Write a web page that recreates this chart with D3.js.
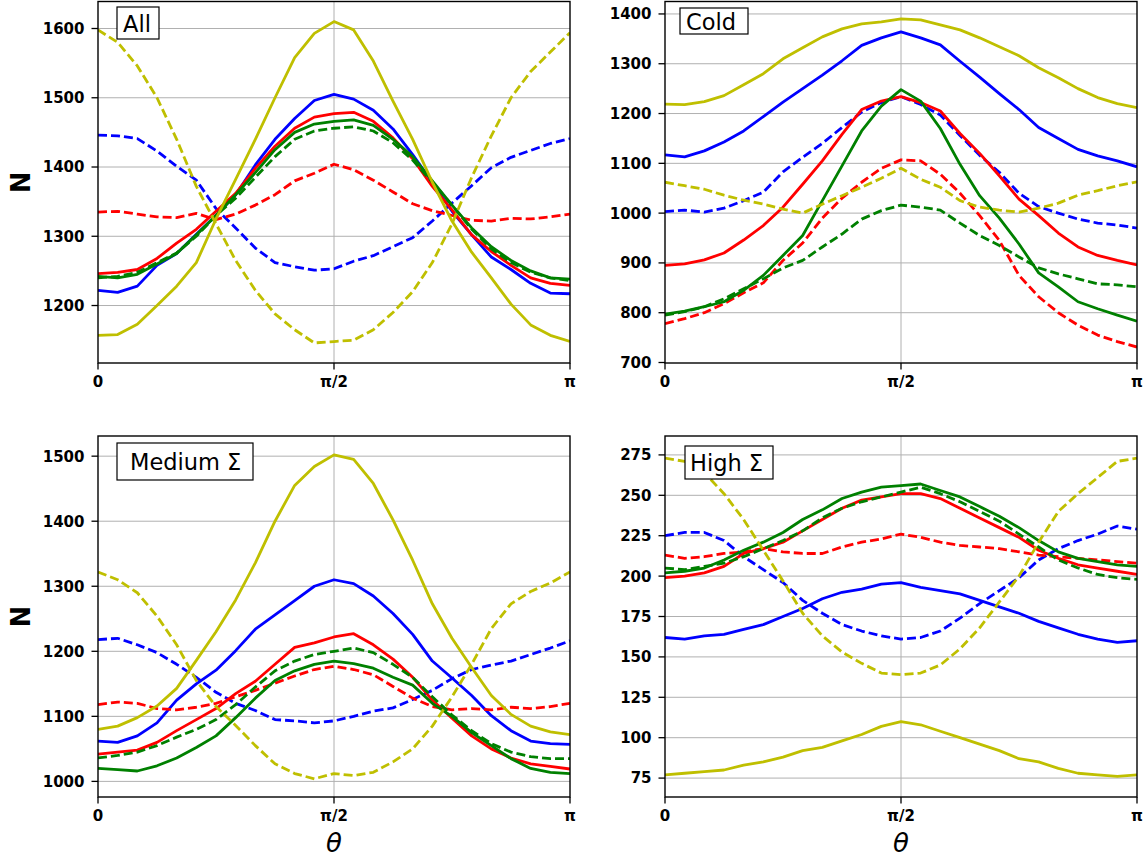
<!DOCTYPE html>
<html>
<head>
<meta charset="utf-8">
<script src="https://cdn.jsdelivr.net/npm/d3@7"></script>
<style>
  body { margin: 0; background: #fff; }
  text { font-family: "DejaVu Sans", sans-serif; }
</style>
</head>
<body>
<div id="chart"></div>
<script>
// theta samples: 25 steps from 0 to pi
var nSteps = 25;

// ---- All ----
var allBlueSolid    = [1222,1219,1228,1258,1275,1303,1330,1360,1403,1440,1470,1496,1505,1498,1482,1455,1418,1378,1336,1302,1270,1252,1232,1218,1217];
var allBlueDashed   = [1446,1445,1441,1423,1401,1381,1340,1312,1283,1262,1256,1251,1253,1264,1272,1285,1298,1322,1348,1373,1399,1414,1424,1434,1441];
var allRedSolid     = [1246,1248,1252,1268,1290,1310,1336,1362,1398,1430,1456,1472,1477,1479,1466,1442,1412,1372,1338,1302,1278,1258,1240,1232,1229];
var allRedDashed    = [1335,1336,1332,1328,1327,1333,1324,1332,1345,1360,1380,1391,1404,1396,1381,1364,1347,1337,1330,1323,1322,1326,1325,1328,1332];
var allGreenSolid   = [1242,1240,1245,1260,1275,1302,1330,1360,1392,1425,1450,1462,1466,1468,1460,1440,1415,1380,1345,1312,1285,1265,1250,1240,1238];
var allGreenDashed  = [1240,1242,1248,1262,1276,1300,1330,1355,1385,1415,1440,1452,1456,1458,1452,1435,1410,1378,1345,1310,1282,1262,1248,1240,1236];
var allYellowSolid  = [1157,1158,1173,1200,1228,1262,1325,1382,1440,1500,1558,1593,1610,1598,1553,1495,1440,1378,1322,1277,1240,1202,1172,1157,1148];
var allYellowDashed = [1598,1580,1546,1500,1440,1372,1318,1265,1222,1188,1165,1146,1148,1150,1165,1190,1220,1262,1318,1385,1445,1500,1538,1566,1594];

// ---- Cold ----
var coldBlueSolid    = [1117,1113,1125,1143,1165,1194,1223,1250,1277,1306,1337,1352,1364,1352,1338,1305,1273,1240,1208,1172,1150,1128,1115,1105,1093];
var coldBlueDashed   = [1003,1006,1002,1010,1025,1042,1083,1112,1140,1172,1203,1222,1234,1218,1197,1156,1116,1082,1040,1013,1000,988,980,976,970];
var coldRedSolid     = [895,898,906,920,946,975,1012,1058,1105,1158,1208,1225,1234,1222,1205,1160,1120,1075,1028,995,960,932,915,905,896];
var coldRedDashed    = [778,788,800,818,840,860,905,940,990,1030,1062,1090,1107,1105,1078,1040,995,945,875,832,800,775,755,742,731];
var coldGreenSolid   = [797,803,812,822,845,875,915,955,1025,1095,1165,1215,1248,1225,1170,1098,1035,990,938,880,852,822,808,795,783];
var coldGreenDashed  = [795,802,812,828,848,868,890,905,932,958,988,1005,1016,1012,1006,980,955,935,912,890,878,868,858,856,852];
var coldYellowSolid  = [1219,1218,1224,1236,1258,1280,1310,1332,1354,1370,1380,1384,1390,1388,1378,1368,1352,1334,1316,1292,1272,1250,1232,1220,1212];
var coldYellowDashed = [1062,1055,1048,1036,1026,1018,1008,1000,1018,1035,1052,1070,1090,1068,1052,1025,1012,1006,1002,1010,1020,1036,1045,1055,1063];

// ---- Medium Sigma ----
var medBlueSolid    = [1062,1060,1070,1090,1125,1150,1171,1201,1234,1256,1278,1300,1310,1304,1285,1258,1226,1185,1159,1132,1101,1078,1062,1058,1057];
var medBlueDashed   = [1218,1220,1210,1198,1180,1160,1137,1120,1109,1095,1093,1090,1093,1100,1108,1113,1126,1140,1158,1172,1179,1185,1195,1205,1216];
var medRedSolid     = [1042,1045,1048,1060,1078,1095,1112,1135,1154,1180,1206,1213,1222,1227,1210,1188,1160,1125,1097,1070,1050,1036,1027,1023,1019];
var medRedDashed    = [1118,1122,1120,1112,1110,1114,1120,1130,1140,1151,1162,1172,1177,1172,1164,1146,1128,1115,1110,1112,1110,1114,1112,1115,1120];
var medGreenSolid   = [1020,1018,1016,1024,1036,1052,1070,1098,1128,1155,1170,1180,1185,1181,1174,1160,1148,1120,1100,1075,1055,1035,1020,1014,1012];
var medGreenDashed  = [1036,1040,1045,1055,1068,1080,1095,1118,1145,1170,1185,1195,1200,1205,1198,1180,1160,1130,1102,1078,1058,1045,1038,1035,1035];
var medYellowSolid  = [1080,1085,1098,1116,1143,1186,1230,1279,1336,1400,1455,1484,1502,1495,1458,1402,1340,1273,1220,1175,1132,1103,1085,1076,1072];
var medYellowDashed = [1322,1310,1290,1254,1210,1155,1115,1086,1055,1027,1012,1004,1012,1009,1014,1030,1050,1085,1130,1180,1235,1273,1292,1305,1322];

// ---- High Sigma ----
var highBlueSolid    = [162,161,163,164,167,170,175,180,186,190,192,195,196,193,191,189,185,181,177,172,168,164,161,159,160];
var highBlueDashed   = [225,227,227,222,212,204,196,185,177,170,166,163,161,162,166,174,183,191,199,210,217,222,226,231,229];
var highRedSolid     = [199,200,202,206,214,217,221,228,235,242,247,249,251,251,248,242,236,230,224,216,211,207,205,203,201];
var highRedDashed    = [213,211,212,214,215,217,215,214,214,218,221,223,226,224,221,219,218,217,215,213,212,211,210,209,208];
var highGreenSolid   = [202,203,205,210,216,221,227,235,241,248,252,255,256,257,253,249,243,237,230,222,215,211,209,207,206];
var highGreenDashed  = [205,204,206,208,212,217,222,228,236,242,246,249,252,255,251,246,240,234,226,218,210,205,201,199,198];
var highYellowSolid  = [77,78,79,80,83,85,88,92,94,98,102,107,110,108,104,100,96,92,87,85,81,78,77,76,77];
var highYellowDashed = [273,271,264,251,235,216,197,177,163,153,146,140,139,140,145,155,168,184,200,221,240,251,261,271,273];

var yTicksAll  = [1200, 1300, 1400, 1500, 1600];
var yTicksCold = [700, 800, 900, 1000, 1100, 1200, 1300, 1400];
var yTicksMed  = [1000, 1100, 1200, 1300, 1400, 1500];
var yTicksHigh = [75, 100, 125, 150, 175, 200, 225, 250, 275];
var xTickLabels = ["0", "π/2", "π"];

var colors = { b: "#0000ff", r: "#ff0000", g: "#008000", y: "#bfbf00" };

function sets(bs, bd, rs, rd, gs, gd, ys, yd) {
  return [
    { v: bs, c: "b", dash: false }, { v: bd, c: "b", dash: true },
    { v: rs, c: "r", dash: false }, { v: rd, c: "r", dash: true },
    { v: gs, c: "g", dash: false }, { v: gd, c: "g", dash: true },
    { v: ys, c: "y", dash: false }, { v: yd, c: "y", dash: true }
  ];
}

var panels = [
  { label: "All", l: 98, r: 570, t: 1.5, b: 363, dom: [1117, 1639], ticks: yTicksAll,
    box: [117, 7, 42, 32], tx: 123, ty: 31.5, yTitle: true, xTitle: false,
    series: sets(allBlueSolid, allBlueDashed, allRedSolid, allRedDashed, allGreenSolid, allGreenDashed, allYellowSolid, allYellowDashed) },
  { label: "Cold", l: 665, r: 1137, t: 1.5, b: 363, dom: [699, 1425], ticks: yTicksCold,
    box: [680, 8, 68, 26], tx: 686, ty: 29.5, yTitle: false, xTitle: false,
    series: sets(coldBlueSolid, coldBlueDashed, coldRedSolid, coldRedDashed, coldGreenSolid, coldGreenDashed, coldYellowSolid, coldYellowDashed) },
  { label: "Medium Σ", l: 98, r: 570, t: 436, b: 797, dom: [976, 1531], ticks: yTicksMed,
    box: [117, 443, 136, 37], tx: 130, ty: 470, yTitle: true, xTitle: true,
    series: sets(medBlueSolid, medBlueDashed, medRedSolid, medRedDashed, medGreenSolid, medGreenDashed, medYellowSolid, medYellowDashed) },
  { label: "High Σ", l: 665, r: 1137, t: 436, b: 797, dom: [63.3, 286.7], ticks: yTicksHigh,
    box: [685, 446, 88, 33], tx: 690, ty: 471, yTitle: false, xTitle: true,
    series: sets(highBlueSolid, highBlueDashed, highRedSolid, highRedDashed, highGreenSolid, highGreenDashed, highYellowSolid, highYellowDashed) }
];

var svg = d3.select("#chart").append("svg")
  .attr("width", 1146).attr("height", 858);

panels.forEach(function (p, pi) {
  var x = d3.scaleLinear().domain([0, Math.PI]).range([p.l, p.r]);
  var y = d3.scaleLinear().domain(p.dom).range([p.b, p.t]);
  var g = svg.append("g");

  // grid
  g.selectAll(".hg").data(p.ticks.filter(function (d) { return y(d) < p.b - 1; }))
    .enter().append("line")
    .attr("x1", p.l).attr("x2", p.r)
    .attr("y1", function (d) { return y(d); }).attr("y2", function (d) { return y(d); })
    .attr("stroke", "#b0b0b0").attr("stroke-width", 1);
  g.append("line")
    .attr("x1", x(Math.PI / 2)).attr("x2", x(Math.PI / 2))
    .attr("y1", p.t).attr("y2", p.b)
    .attr("stroke", "#b0b0b0").attr("stroke-width", 1);

  // lines
  svg.append("clipPath").attr("id", "clip" + pi).append("rect")
    .attr("x", p.l).attr("y", p.t).attr("width", p.r - p.l).attr("height", p.b - p.t);
  var line = d3.line()
    .x(function (d, i) { return x(i * Math.PI / (nSteps - 1)); })
    .y(function (d) { return y(d); });
  g.append("g").attr("clip-path", "url(#clip" + pi + ")")
    .selectAll("path").data(p.series).enter().append("path")
    .attr("d", function (s) { return line(s.v); })
    .attr("fill", "none")
    .attr("stroke", function (s) { return colors[s.c]; })
    .attr("stroke-width", 2.8)
    .attr("stroke-linejoin", "round")
    .attr("stroke-dasharray", function (s) { return s.dash ? "9,4" : null; });

  // spines
  g.append("rect")
    .attr("x", p.l).attr("y", p.t).attr("width", p.r - p.l).attr("height", p.b - p.t)
    .attr("fill", "none").attr("stroke", "#000").attr("stroke-width", 1.4);

  // y ticks
  var yt = g.selectAll(".yt").data(p.ticks).enter().append("g");
  yt.append("line")
    .attr("x1", p.l - 6.5).attr("x2", p.l)
    .attr("y1", function (d) { return y(d); }).attr("y2", function (d) { return y(d); })
    .attr("stroke", "#000").attr("stroke-width", 1.3);
  yt.append("text")
    .attr("x", p.l - 13.5).attr("y", function (d) { return y(d); })
    .attr("dy", "0.36em").attr("text-anchor", "end")
    .attr("font-size", 15).attr("font-weight", "bold")
    .text(function (d) { return d; });

  // x ticks
  var xv = [0, Math.PI / 2, Math.PI];
  xv.forEach(function (v, i) {
    g.append("line")
      .attr("x1", x(v)).attr("x2", x(v)).attr("y1", p.b).attr("y2", p.b + 6.5)
      .attr("stroke", "#000").attr("stroke-width", 1.3);
    g.append("text")
      .attr("x", x(v)).attr("y", p.b + 24.3)
      .attr("text-anchor", "middle")
      .attr("font-size", 15).attr("font-weight", "bold")
      .text(xTickLabels[i]);
  });

  if (p.yTitle) {
    g.append("text")
      .attr("transform", "translate(21," + ((p.t + p.b) / 2) + ") rotate(-90)")
      .attr("text-anchor", "middle").attr("dy", "0.36em")
      .attr("font-size", 26).attr("font-weight", "bold")
      .text("N");
  }
  if (p.xTitle) {
    g.append("text")
      .attr("x", (p.l + p.r) / 2).attr("y", 852)
      .attr("text-anchor", "middle")
      .attr("font-size", 26).attr("font-style", "italic")
      .text("θ");
  }

  // panel label box
  g.append("rect")
    .attr("x", p.box[0]).attr("y", p.box[1]).attr("width", p.box[2]).attr("height", p.box[3])
    .attr("fill", "#fff").attr("stroke", "#000").attr("stroke-width", 1.2);
  g.append("text")
    .attr("x", p.tx).attr("y", p.ty)
    .attr("font-size", 22.5)
    .text(p.label);
});
</script>
</body>
</html>
